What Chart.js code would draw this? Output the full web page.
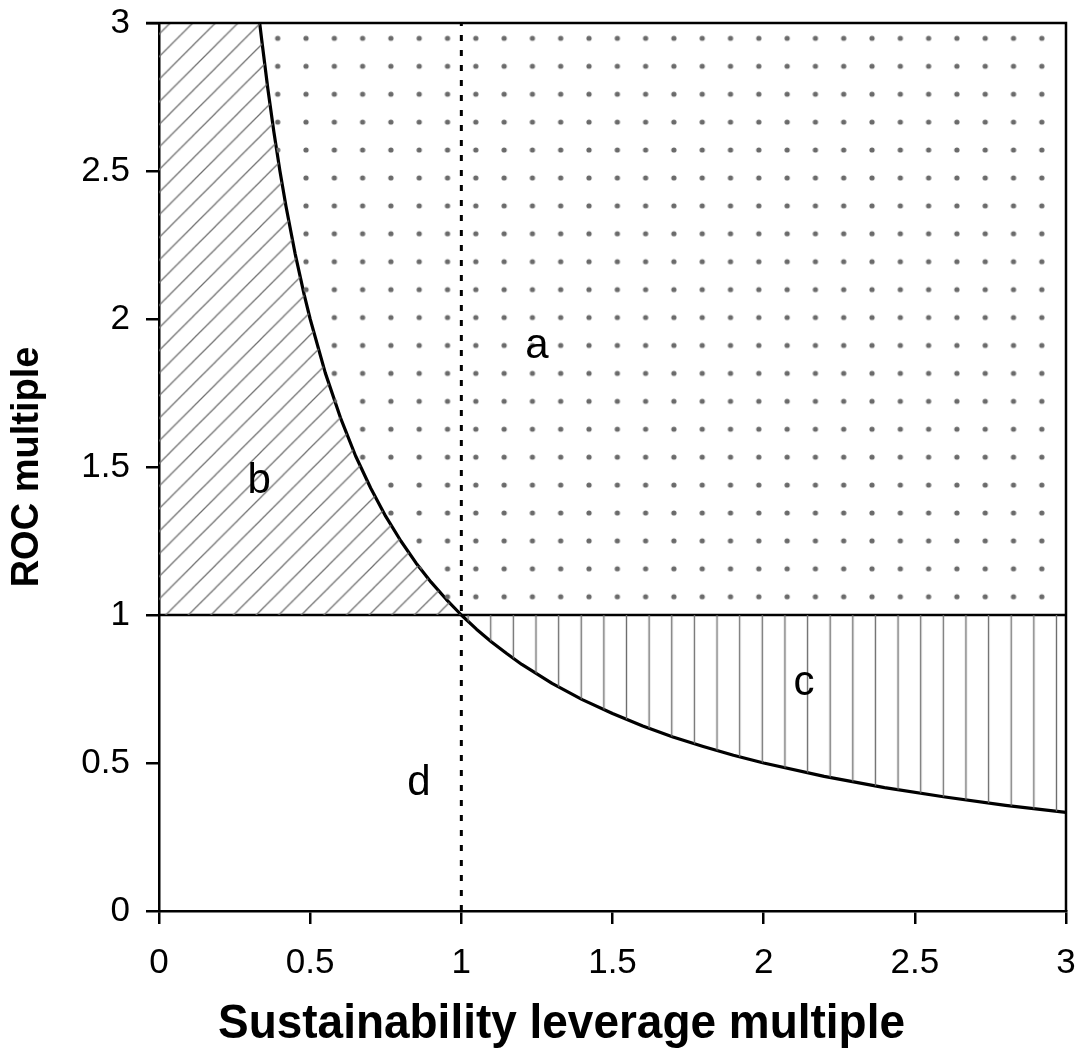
<!DOCTYPE html>
<html>
<head>
<meta charset="utf-8">
<script src="https://cdn.jsdelivr.net/npm/chart.js@4.4.0/dist/chart.umd.min.js"></script>
<style>
html,body{margin:0;padding:0;background:#fff;}
#wrap{width:1081px;height:1061px;position:relative;}
canvas{display:block;}
</style>
</head>
<body>
<div id="wrap"><canvas id="c" width="1081" height="1061"></canvas></div>
<script>
// ---- data ----
const curveX = [0.333, 0.34, 0.36, 0.38, 0.4, 0.42, 0.45, 0.48, 0.5, 0.55, 0.6, 0.65, 0.7, 0.75, 0.8, 0.85, 0.9, 0.95, 1.0,
                1.05, 1.1, 1.15, 1.2, 1.3, 1.4, 1.5, 1.6, 1.7, 1.8, 1.9, 2.0, 2.2, 2.4, 2.6, 2.8, 3.0];
const curveY = [3.0, 2.941, 2.778, 2.632, 2.5, 2.381, 2.222, 2.083, 2.0, 1.818, 1.667, 1.538, 1.429, 1.333, 1.25, 1.176, 1.111, 1.053, 1.0,
                0.952, 0.909, 0.87, 0.833, 0.769, 0.714, 0.667, 0.625, 0.588, 0.556, 0.526, 0.5, 0.455, 0.417, 0.385, 0.357, 0.333];
const baseLineX = [0, 3];
const baseLineY = [1, 1];
const splitX = [1, 1];
const splitY = [0, 3];
const xTicks = [0, 0.5, 1, 1.5, 2, 2.5, 3];
const yTicks = [0, 0.5, 1, 1.5, 2, 2.5, 3];
const regionNames = ['a', 'b', 'c', 'd'];
const regionX = [1.25, 0.331, 2.133, 0.86];
const regionY = [1.868, 1.412, 0.73, 0.392];
const xTitle = 'Sustainability leverage multiple';
const yTitle = 'ROC multiple';

// ---- build point tables ----
const pts = (xs, ys) => xs.map((x, i) => ({x: x, y: ys[i]}));
const curvePts = pts(curveX, curveY);
const leftPart = curvePts.filter(p => p.x <= 1);
const rightPart = curvePts.filter(p => p.x >= 1);
const regionA = leftPart.concat([{x: xTicks[xTicks.length - 1], y: 1}]);
const regionB = [{x: 0, y: curveY[0]}].concat(leftPart);
const regionC = rightPart;

// ---- fill patterns ----
function makePattern(w, h, draw, m) {
  const c = document.createElement('canvas');
  c.width = w; c.height = h;
  const g = c.getContext('2d');
  draw(g);
  const p = g.createPattern(c, 'repeat');
  p.setTransform(new DOMMatrix(m));
  return p;
}
const dsx = 28.3 / 28, dsy = 27.92 / 28;
const dotPattern = makePattern(28, 28, g => {
  g.fillStyle = '#6a6a6a';
  g.beginPath(); g.arc(14, 14, 2.6, 0, Math.PI * 2); g.fill();
}, [dsx, 0, 0, dsy, 277.7 - 14 * dsx, 38.3 - 14 * dsy]);
const ds = 22.6 / 23;
const diagPattern = makePattern(23, 23, g => {
  g.strokeStyle = '#707070'; g.lineWidth = 1.3;
  g.beginPath();
  g.moveTo(-3, 3); g.lineTo(3, -3);
  g.moveTo(-3, 26); g.lineTo(26, -3);
  g.moveTo(20, 26); g.lineTo(26, 20);
  g.stroke();
}, [ds, 0, 0, ds, 12.3, 0]);
const vs = 22.63 / 23;
const vertPattern = makePattern(23, 4, g => {
  g.strokeStyle = '#6e6e6e'; g.lineWidth = 1.4;
  g.beginPath(); g.moveTo(11.5, 0); g.lineTo(11.5, 4); g.stroke();
}, [vs, 0, 0, 1, 490.7 - 11.5 * vs, 0]);

// ---- plugins ----
const frame = {
  id: 'frame',
  afterDatasetsDraw(chart) {
    const {ctx, chartArea: a} = chart;
    ctx.save();
    ctx.strokeStyle = '#000'; ctx.lineWidth = 2.5;
    ctx.beginPath();
    ctx.moveTo(a.left - 13, a.top); ctx.lineTo(a.right, a.top); ctx.lineTo(a.right, a.bottom);
    ctx.stroke();
    ctx.restore();
  }
};
const regionText = {
  id: 'regionText',
  afterDatasetsDraw(chart) {
    const {ctx, scales} = chart;
    ctx.save();
    ctx.fillStyle = '#000';
    ctx.font = '42px "Liberation Sans", Arial, sans-serif';
    ctx.textAlign = 'center'; ctx.textBaseline = 'alphabetic';
    regionNames.forEach((t, i) => {
      ctx.fillText(t, scales.x.getPixelForValue(regionX[i]), scales.y.getPixelForValue(regionY[i]));
    });
    ctx.restore();
  }
};
const bottomTitle = {
  id: 'bottomTitle',
  afterDraw(chart) {
    const ctx = chart.ctx;
    ctx.save();
    ctx.fillStyle = '#000';
    ctx.font = 'bold 49px "Liberation Sans Narrow", "Liberation Sans", Arial, sans-serif';
    ctx.textAlign = 'center'; ctx.textBaseline = 'alphabetic';
    const w = ctx.measureText(xTitle).width;
    const target = 687;
    const cx = 561.5, by = 1038;
    ctx.translate(cx, by);
    ctx.scale(target / w, 1);
    ctx.fillText(xTitle, 0, 0);
    ctx.restore();
  }
};

const tickFont = {family: '"Liberation Sans", Arial, sans-serif', size: 35};
const lineDs = (data, extra) => Object.assign({
  data: data, pointRadius: 0, pointHoverRadius: 0, tension: 0, fill: false,
  borderColor: '#000', borderWidth: 0, backgroundColor: 'rgba(0,0,0,0)'
}, extra);
const noPadX = s => { s.height = 150; s.paddingLeft = 0; s.paddingRight = 0; };
const noPadY = s => { s.width = 159; s.paddingTop = 0; s.paddingBottom = 0; };

new Chart(document.getElementById('c'), {
  type: 'line',
  data: {
    datasets: [
      lineDs(regionA, {label: 'a', fill: 'end', backgroundColor: dotPattern}),
      lineDs(regionB, {label: 'b', fill: {value: 1}, backgroundColor: diagPattern}),
      lineDs(regionC, {label: 'c', fill: {value: 1}, backgroundColor: vertPattern}),
      lineDs(pts(baseLineX, baseLineY), {label: 'base', borderWidth: 2.5}),
      lineDs(pts(splitX, splitY), {label: 'split', borderWidth: 3, borderDash: [6, 9]}),
      lineDs(curvePts, {label: 'curve', borderWidth: 3.2, borderJoinStyle: 'round'})
    ]
  },
  options: {
    responsive: false,
    animation: false,
    devicePixelRatio: 1,
    layout: {padding: {top: 23, right: 15, left: 0, bottom: 0}},
    plugins: {legend: {display: false}, tooltip: {enabled: false}, title: {display: false}},
    events: [],
    scales: {
      x: {
        type: 'linear', min: 0, max: 3,
        afterBuildTicks: s => { s.ticks = xTicks.map(v => ({value: v})); },
        afterFit: noPadX,
        ticks: {font: tickFont, color: '#000', padding: 18, maxRotation: 0, autoSkip: false,
                callback: v => String(v)},
        grid: {display: true, drawOnChartArea: false, drawTicks: true, tickLength: 13, color: '#000', lineWidth: 2.5},
        border: {display: true, color: '#000', width: 2.5}
      },
      y: {
        type: 'linear', min: 0, max: 3,
        afterBuildTicks: s => { s.ticks = yTicks.map(v => ({value: v})); },
        afterFit: noPadY,
        ticks: {font: tickFont, color: '#000', padding: 16, autoSkip: false,
                callback: v => String(v)},
        grid: {display: true, drawOnChartArea: false, drawTicks: true, tickLength: 13, color: '#000', lineWidth: 2.5},
        border: {display: true, color: '#000', width: 2.5},
        title: {display: true, text: yTitle, color: '#000',
                font: {family: '"Liberation Sans", Arial, sans-serif', size: 38, weight: 'bold'},
                padding: {top: 5, bottom: 0}}
      }
    }
  },
  plugins: [frame, regionText, bottomTitle]
});
</script>
</body>
</html>
